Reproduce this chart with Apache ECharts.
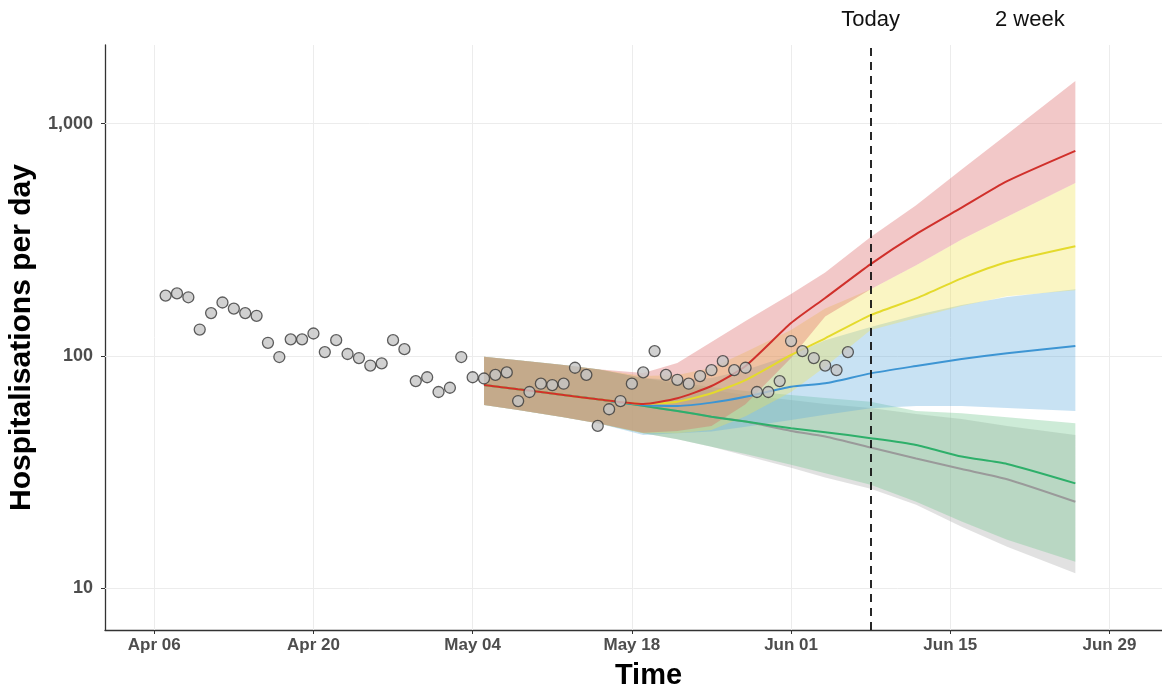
<!DOCTYPE html>
<html><head><meta charset="utf-8">
<script src="https://cdn.jsdelivr.net/npm/echarts@6/dist/echarts.min.js"></script>
<style>html,body{margin:0;padding:0;background:#fff;overflow:hidden}#c{width:1162px;height:687px}</style>
</head><body><div id="c"></div>
<script>
// ---------- DATA ----------
const obsDates = ['2020-04-07','2020-04-08','2020-04-09','2020-04-10','2020-04-11','2020-04-12','2020-04-13','2020-04-14','2020-04-15','2020-04-16','2020-04-17','2020-04-18','2020-04-19','2020-04-20','2020-04-21','2020-04-22','2020-04-23','2020-04-24','2020-04-25','2020-04-26','2020-04-27','2020-04-28','2020-04-29','2020-04-30',
'2020-05-01','2020-05-02','2020-05-03','2020-05-04','2020-05-05','2020-05-06','2020-05-07','2020-05-08','2020-05-09','2020-05-10','2020-05-11','2020-05-12','2020-05-13','2020-05-14','2020-05-15','2020-05-16','2020-05-17','2020-05-18','2020-05-19','2020-05-20','2020-05-21','2020-05-22','2020-05-23','2020-05-24','2020-05-25','2020-05-26','2020-05-27','2020-05-28','2020-05-29','2020-05-30','2020-05-31',
'2020-06-01','2020-06-02','2020-06-03','2020-06-04','2020-06-05','2020-06-06'];
const obsValues = [182,186,179,130,153,170,160,153,149,114,99,118,118,125,104,117,102,98,91,93,117,107,78,81,
70,73,99,81,80,83,85,64,70,76,75,76,89,83,50,59,64,76,85,105,83,79,76,82,87,95,87,89,70,70,78,
116,105,98,91,87,104];

const projDates = ['2020-05-05','2020-05-08','2020-05-12','2020-05-15','2020-05-19','2020-05-22','2020-05-25','2020-05-28','2020-06-01','2020-06-04','2020-06-08','2020-06-12','2020-06-16','2020-06-20','2020-06-26'];

const redMid = [75,71.9,68,65.1,62.2,65.8,74.3,90.6,138.6,177.7,248.7,334.7,435,565.7,764];
const redHi  = [99.3,96,91.5,87.6,84.5,93.3,114.9,141.4,184.8,229,325,446,635,901,1528];
const redLo  = [61.6,58.6,54.5,51.3,46.7,47.5,50,62,98,148,194,246,317.6,397.5,555];

const yelMid = [75,71.9,68,65.1,62.2,63.6,69.1,78.8,101,119.2,150,177,216,254,297];
const yelHi  = [99.3,96,91.5,87.6,82,82.9,88.8,104,129.4,160,194,246,317.6,397.5,555];
const yelLo  = [61.6,58.6,54.5,51.3,46.5,46.5,48,55,70,90,129.4,145.7,164,181,192];

const bluMid = [75,71.9,68,65.1,61.6,61,63,66.8,73.8,76.3,84.2,90.6,97.1,102.7,110.4];
const bluHi  = [99.3,96,91.5,87.6,80.4,78.8,80.4,87,101,117,133.3,150,165.7,179.4,194];
const bluLo  = [61.6,58.6,54.5,51.3,45.7,46.5,47.3,49.6,53,55.8,59.6,61,61,59.8,58];

const grnMid = [75,71.9,68,65.1,61,58,54.8,52.2,48.9,47,44.3,41.4,36.9,34.3,28.3];
const grnHi  = [99.3,96,91.5,87.6,80.4,77.3,73.5,70.7,68,66,63.6,58,56.7,54.5,51.3];
const grnLo  = [61.6,58.6,54.5,51.3,46.5,43.8,40.7,37.9,34,31.3,27.9,23.6,19.4,16.2,13.0];

const gryMid = [75,71.9,68,65.1,61,58,54.8,52.2,47.6,45,40.4,36.2,32.6,29.5,23.6];
const gryHi  = [99.3,96,91.5,87.6,80.4,75.8,71.4,68,64.7,62.2,59.8,56.3,53.6,50,45.7];
const gryLo  = [61.6,58.6,54.5,51.3,46.5,43.8,40.7,37.2,33,30,26.8,22.9,18.4,15.1,11.6];

const xTickDates  = ['2020-04-06','2020-04-20','2020-05-04','2020-05-18','2020-06-01','2020-06-15','2020-06-29'];
const xTickLabels = ['Apr 06','Apr 20','May 04','May 18','Jun 01','Jun 15','Jun 29'];
const yTickValues = [10,100,1000];
const yTickLabels = ['10','100','1,000'];
const todayDate = '2020-06-08';
const twoWeekDate = '2020-06-22';

// ---------- HELPERS ----------
const toTs = s => { const p = s.split('-').map(Number); return new Date(p[0], p[1]-1, p[2]).getTime(); };
const DAY = 86400000;
const xMin = toTs('2020-04-06') - 4.33*DAY;
const xMax = toTs('2020-06-29') + 4.62*DAY;
const xTickTs = xTickDates.map(toTs);
const FONT = '"Liberation Sans", Arial, sans-serif';

const scen = [
  {key:'grey',   mid:gryMid, hi:gryHi, lo:gryLo, band:'rgba(169,169,169,0.35)', line:'#9a9a9a'},
  {key:'green',  mid:grnMid, hi:grnHi, lo:grnLo, band:'rgba(112,198,141,0.35)', line:'#2eaf6a'},
  {key:'blue',   mid:bluMid, hi:bluHi, lo:bluLo, band:'rgba(98,172,221,0.35)',  line:'#3d95d3'},
  {key:'yellow', mid:yelMid, hi:yelHi, lo:yelLo, band:'rgba(241,226,84,0.35)',  line:'#e4da2c'},
  {key:'red',    mid:redMid, hi:redHi, lo:redLo, band:'rgba(218,98,98,0.35)',   line:'#d0302b'}
];

const series = [];
series.push({
  type:'line', data:[], silent:true,
  markLine:{silent:true, symbol:'none', z:1, animation:false, label:{show:false},
    lineStyle:{color:'#ececec', width:1, type:'solid'},
    data:[...yTickValues.map(v=>({yAxis:v})), ...xTickTs.map(t=>({xAxis:t}))]}
});
scen.forEach(s=>{
  series.push({
    type:'custom', z:2, silent:true,
    data: projDates.map((d,i)=>[toTs(d), s.lo[i], s.hi[i]]),
    encode:{x:0, y:[1,2]},
    renderItem:(params, api)=>{
      if (params.dataIndex !== 0) return null;
      const top = projDates.map((d,i)=>api.coord([toTs(d), s.hi[i]]));
      const bot = projDates.map((d,i)=>api.coord([toTs(d), s.lo[i]])).reverse();
      return {type:'polygon', shape:{points: top.concat(bot)}, style:{fill:s.band}};
    }
  });
});
scen.forEach(s=>{
  series.push({type:'line', z:3, silent:true, symbol:'none', smooth:0.2,
    lineStyle:{color:s.line, width:2}, data: projDates.map((d,i)=>[toTs(d), s.mid[i]])});
});
series.push({type:'scatter', z:4, symbolSize:11,
  itemStyle:{color:'#c6c6c6', borderColor:'#383838', borderWidth:1.3},
  data: obsDates.map((d,i)=>[toTs(d), obsValues[i]])});
series.push({
  type:'line', data:[], silent:true,
  markLine:{silent:true, symbol:'none', z:6, animation:false,
    lineStyle:{color:'#111', width:1.8, type:[8,6]},
    label:{show:true, position:'end', distance:14, fontSize:22, color:'#111', fontFamily:FONT},
    data:[{xAxis:toTs(todayDate), label:{formatter:'Today'}},
          {xAxis:toTs(twoWeekDate), label:{formatter:'2 week'}, lineStyle:{color:'rgba(0,0,0,0)', width:0}}]}
});

const chart = echarts.init(document.getElementById('c'), null, {renderer:'canvas', width:1162, height:687});
chart.setOption({
  animation:false,
  backgroundColor:'#fff',
  textStyle:{fontFamily:FONT},
  grid:{left:105, right:0, top:45, bottom:57, containLabel:false, outerBoundsMode:'none'},
  xAxis:{type:'value', min:xMin, max:xMax, scale:true,
    axisLine:{show:true, lineStyle:{color:'#333', width:1.3}},
    axisTick:{show:true, length:4, lineStyle:{color:'#333'}, customValues:xTickTs},
    axisLabel:{customValues:xTickTs, fontSize:17, fontWeight:'bold', color:'#4d4d4d', margin:7,
      formatter:v=>{ const i = xTickTs.findIndex(t=>Math.abs(t-v)<DAY/2); return i>=0 ? xTickLabels[i] : ''; }},
    splitLine:{show:false}, minorTick:{show:false},
    name:'Time', nameLocation:'middle', nameGap:31,
    nameTextStyle:{fontSize:29, fontWeight:'bold', color:'#000', padding:[0,0,0,30]}},
  yAxis:{type:'log', logBase:10, min:6.615, max:2182,
    axisLine:{show:true, lineStyle:{color:'#333', width:1.3}},
    axisTick:{show:true, length:4, lineStyle:{color:'#333'}, customValues:yTickValues},
    axisLabel:{customValues:yTickValues, fontSize:18, fontWeight:'bold', color:'#4d4d4d', margin:12,
      formatter:v=>{ const i = yTickValues.findIndex(t=>Math.abs(t-v)/t<0.01); return i>=0 ? yTickLabels[i] : ''; }},
    splitLine:{show:false}, minorTick:{show:false},
    name:'Hospitalisations per day', nameLocation:'middle', nameGap:41,
    nameTextStyle:{fontSize:30, fontWeight:'bold', color:'#000'}},
  series
});
</script></body></html>
